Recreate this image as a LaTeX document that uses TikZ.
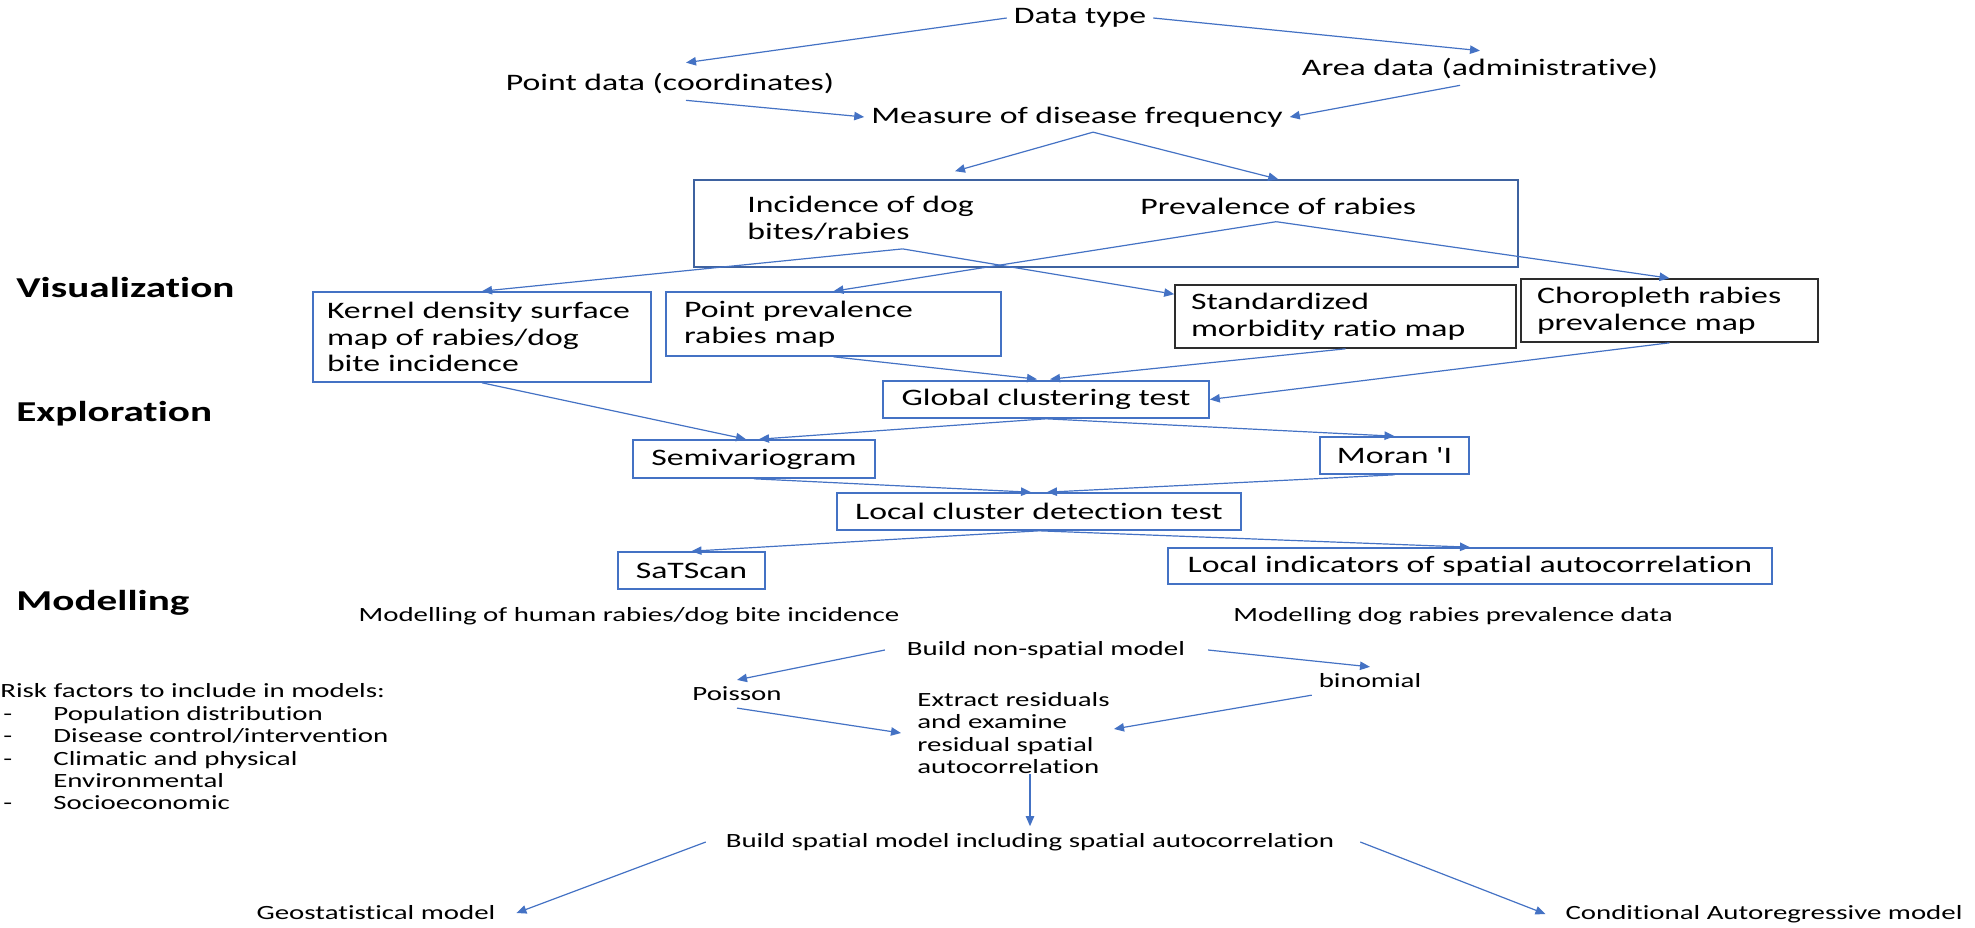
\documentclass[tikz,border=0pt]{standalone}
\usepackage{fontspec}
\setmainfont[FakeStretch=1.43,Ligatures={TeXOff,NoCommon}]{Carlito}
\usetikzlibrary{arrows.meta,calc}
\definecolor{lineblue}{RGB}{68,114,196}
\definecolor{frameblue}{RGB}{62,98,160}
\definecolor{framedark}{RGB}{45,45,45}
\tikzset{
  big/.style={font=\fontsize{11.8}{13.3}\selectfont},
  small/.style={font=\fontsize{10.1}{11.2}\selectfont},
  heading/.style={font=\fontsize{14.4}{16}\selectfont\bfseries, anchor=west, inner sep=0pt},
  bluebox/.style={big, draw=lineblue, line width=0.8pt, align=left, inner ysep=0pt},
  darkbox/.style={bluebox, draw=framedark},
  flow/.style={draw=lineblue, line width=0.6pt, -{Triangle[length=5pt,width=4.2pt]}},
}
\begin{document}
\begin{tikzpicture}[x=0.5pt,y=0.5pt,yscale=-1,xscale=1]
\useasboundingbox (0,0) rectangle (1975,927);
        % Text Node
        \draw (1080,18) node (datatype) [big] {Data type};
        % Text Node
        \draw (670,83) node (pointdata) [big] {Point data (coordinates)};
        % Text Node
        \draw (1480,68) node (areadata) [big] {Area data (administrative)};
        % Text Node
        \draw (1077,117) node (measure) [big] {Measure of disease frequency};
        %Shape: Rectangle
        \draw (1106,223.5) node (bigbox) [draw=frameblue, line width=0.8pt, minimum width=412pt, minimum height=43.5pt] {};
        % Text Node
        \draw (747,218.5) node (incidence) [big, anchor=west, align=left, inner sep=0pt] {Incidence of dog\\bites/rabies};
        % Text Node
        \draw (1140,206) node (prevalence) [big, anchor=west, inner sep=0pt] {Prevalence of rabies};
        % Text Node
        \draw (16,287) node [heading] {Visualization};
        \draw (16,414) node [heading] {Exploration};
        \draw (16,603) node [heading] {Modelling};
        %Shape: Rectangle
        \draw (482,337) node (kernel) [bluebox, inner xsep=7pt, text width=155pt, minimum height=45pt] {Kernel~density~surface\\map of rabies/dog\\bite incidence};
        \draw (833.5,324) node (pointprev) [bluebox, inner xsep=9pt, text width=149.5pt, minimum height=32pt] {Point prevalence\\rabies map};
        \draw (1345.5,316.5) node (standardized) [darkbox, inner xsep=8pt, text width=154.5pt, minimum height=31.5pt] {Standardized\\morbidity ratio map};
        \draw (1669.5,310.5) node (choropleth) [darkbox, inner xsep=8pt, text width=132.5pt, minimum height=31.5pt] {Choropleth rabies\\prevalence map};
        \draw (1046,399.5) node (global) [bluebox, minimum width=163pt, minimum height=18.5pt] {Global clustering test};
        \draw (754,459) node (semivariogram) [bluebox, minimum width=121pt, minimum height=19pt] {Semivariogram};
        \draw (1394.5,455.5) node (moran) [bluebox, minimum width=74.5pt, minimum height=18.5pt] {Moran 'I};
        \draw (1039,511.5) node (localclust) [bluebox, minimum width=202pt, minimum height=18.5pt] {Local cluster detection test};
        \draw (691.5,570.5) node (satscan) [bluebox, minimum width=73.5pt, minimum height=18.5pt] {SaTScan};
        \draw (1470,566) node (lisa) [bluebox, minimum width=302pt, minimum height=18pt] {Local indicators of spatial autocorrelation};
        % Text Node
        \draw (629,616) node (modhuman) [small] {Modelling of human rabies/dog bite incidence};
        \draw (1453,616) node (moddog) [small] {Modelling dog rabies prevalence data};
        \draw (1046,650) node (buildns) [small] {Build non-spatial model};
        \draw (737,694) node (poisson) [small] {Poisson};
        \draw (1370,681) node (binomial) [small] {binomial};
        \draw (917,733) node (extract) [small, anchor=west, align=left, inner sep=0pt] {Extract residuals\\and examine\\residual spatial\\autocorrelation};
        \draw (0,747) node (risk) [small, anchor=west, align=left, inner sep=0pt] {Risk factors to include in models:\\
          \hspace*{1.5pt}\makebox[25pt][l]{-}Population distribution\\
          \hspace*{1.5pt}\makebox[25pt][l]{-}Disease control/intervention\\
          \hspace*{1.5pt}\makebox[25pt][l]{-}Climatic and physical\\
          \hspace*{26.5pt}Environmental\\
          \hspace*{1.5pt}\makebox[25pt][l]{-}Socioeconomic};
        \draw (1030,842) node (buildsp) [small] {Build spatial model including spatial autocorrelation};
        \draw (376,913) node (geo) [small] {Geostatistical model};
        \draw (1764,914) node (car) [small] {Conditional Autoregressive model};
        % fork points
        \coordinate (mfork) at ($(measure.south)+(16,-2)$);
        \coordinate (incfork) at ($(incidence.south)+(42,8)$);
        \coordinate (prevfork) at ($(prevalence.south)+(-2,7)$);
        %Straight Lines
        \draw [flow] (datatype.west) -- ($(pointdata.north)+(16,-3)$);
        \draw [flow] (datatype.east) -- (areadata.north);
        \draw [flow] ($(pointdata.south)+(16,0)$) -- (measure.west);
        \draw [flow] ($(areadata.south)+(-20,0)$) -- (measure.east);
        \draw [flow] (mfork) -- ($(bigbox.north)+(-151,-8)$);
        \draw [flow] (mfork) -- (prevalence.north |- bigbox.north);
        \draw [flow] (incfork) -- (kernel.north);
        \draw [flow] (incfork) -- ($(standardized.north west)+(0,10)$);
        \draw [flow] (prevfork) -- (pointprev.north);
        \draw [flow] (prevfork) -- (choropleth.north);
        %Straight Lines
        \draw [flow] (kernel.south) -- ($(semivariogram.north)+(-8,0)$);
        \draw [flow] (pointprev.south) -- ($(global.north)+(-9,-1)$);
        \draw [flow] (standardized.south) -- ($(global.north)+(4,-1)$);
        \draw [flow] (choropleth.south) -- (global.east);
        \draw [flow] (global.south) -- ($(semivariogram.north)+(5,0)$);
        \draw [flow] (global.south) -- (moran.north);
        \draw [flow] (semivariogram.south) -- ($(localclust.north)+(-8,0)$);
        \draw [flow] (moran.south) -- ($(localclust.north)+(8,0)$);
        \draw [flow] (localclust.south) -- (satscan.north);
        \draw [flow] (localclust.south) -- (lisa.north);
        %Straight Lines
        \draw [flow] ($(buildns.west)+(-15,0)$) -- (poisson.north);
        \draw [flow] ($(buildns.east)+(16,0)$) -- (binomial.north);
        \draw [flow] (poisson.south) -- ($(extract.west)+(-16,0)$);
        \draw [flow] (binomial.south west) -- ($(extract.east)+(4,-4)$);
        \draw [flow] (extract.south -| buildsp.north) -- (buildsp.north);
        \draw [flow] ($(buildsp.west)+(-13,0)$) -- ($(geo.east)+(14,0)$);
        \draw [flow] ($(buildsp.east)+(19,0)$) -- ($(car.west)+(-13,0)$);
\end{tikzpicture}
\end{document}
